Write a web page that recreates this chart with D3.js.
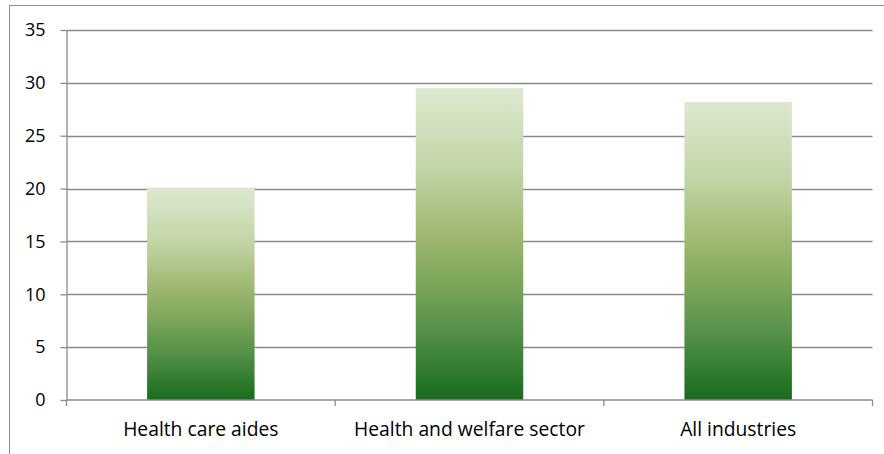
<!DOCTYPE html>
<html>
<head>
<meta charset="utf-8">
<script src="https://cdn.jsdelivr.net/npm/d3@7"></script>
<style>
  html, body { margin: 0; padding: 0; background: #fff; }
  svg { display: block; font-family: "Open Sans", Lato, sans-serif; }
</style>
</head>
<body>
<svg id="chart" width="884" height="454"></svg>
<script>
// Categories and their values
const categories = ["Health care aides", "Health and welfare sector", "All industries"];
const values = [20.1, 29.5, 28.2];
const yTicks = [0, 5, 10, 15, 20, 25, 30, 35];

const svg = d3.select("#chart");
const W = 884, H = 454;
const margin = { left: 66.5, right: 11.5, top: 30, bottom: 54 };
const FONT = "'Open Sans', Lato, sans-serif";

// Outer chart frame (runs past the bottom and right edges)
svg.append("rect")
  .attr("x", 9.5).attr("y", 5.5)
  .attr("width", W).attr("height", H)
  .attr("fill", "none").attr("stroke", "#8c8c8c").attr("stroke-width", 1);

const x = d3.scaleBand()
  .domain(categories)
  .range([margin.left, W - margin.right])
  .paddingInner(0.6).paddingOuter(0.3);

const xOuter = d3.scaleBand()
  .domain(categories)
  .range([margin.left, W - margin.right]);

const y = d3.scaleLinear().domain([0, 35]).range([H - margin.bottom, margin.top]);

// Vertical gradient used by every bar
const defs = svg.append("defs");
const grad = defs.append("linearGradient")
  .attr("id", "barGrad").attr("x1", 0).attr("y1", 0).attr("x2", 0).attr("y2", 1);
[[0, "#dde9d0"], [0.25, "#c3d6a8"], [0.47, "#9fb871"], [0.62, "#7ca65a"], [0.78, "#549048"], [1, "#176c1b"]]
  .forEach(([o, c]) => grad.append("stop").attr("offset", o).attr("stop-color", c));

// Horizontal gridlines
svg.append("g")
  .selectAll("line")
  .data(yTicks.filter(d => d > 0))
  .join("line")
  .attr("x1", margin.left).attr("x2", W - margin.right)
  .attr("y1", d => Math.round(y(d)) + 0.5).attr("y2", d => Math.round(y(d)) + 0.5)
  .attr("stroke", "#8a8a8a").attr("stroke-width", 1.3);

// Bars
svg.append("g")
  .selectAll("rect")
  .data(values)
  .join("rect")
  .attr("x", (d, i) => x(categories[i]))
  .attr("width", x.bandwidth())
  .attr("y", d => y(d))
  .attr("height", d => y(0) - y(d))
  .attr("fill", "url(#barGrad)");

// Y axis
const yAxis = svg.append("g")
  .attr("transform", `translate(${margin.left},0)`)
  .call(d3.axisLeft(y).tickValues(yTicks).tickSize(6).tickSizeOuter(0).tickPadding(15));
yAxis.select(".domain").attr("stroke", "#8a8a8a").attr("stroke-width", 1.3);
yAxis.selectAll(".tick line").attr("stroke", "#8a8a8a").attr("stroke-width", 1.3);
yAxis.selectAll(".tick text").attr("font-size", 18).attr("fill", "#000")
  .style("font-family", FONT);

// X axis with category separators
const xAxis = svg.append("g")
  .attr("transform", `translate(0,${y(0)})`);
xAxis.append("line")
  .attr("x1", margin.left).attr("x2", W - margin.right)
  .attr("y1", 0).attr("y2", 0)
  .attr("stroke", "#8a8a8a").attr("stroke-width", 1.3);
const seps = categories.map(c => xOuter(c)).concat([W - margin.right]);
xAxis.selectAll("line.sep")
  .data(seps)
  .join("line")
  .attr("class", "sep")
  .attr("x1", d => d).attr("x2", d => d)
  .attr("y1", 0).attr("y2", 6)
  .attr("stroke", "#8a8a8a").attr("stroke-width", 1.3);
xAxis.selectAll("text")
  .data(categories)
  .join("text")
  .attr("x", d => xOuter(d) + xOuter.bandwidth() / 2)
  .attr("y", 36)
  .attr("text-anchor", "middle")
  .attr("font-size", 19.3)
  .attr("fill", "#000")
  .style("font-family", FONT)
  .text(d => d);
</script>
</body>
</html>
